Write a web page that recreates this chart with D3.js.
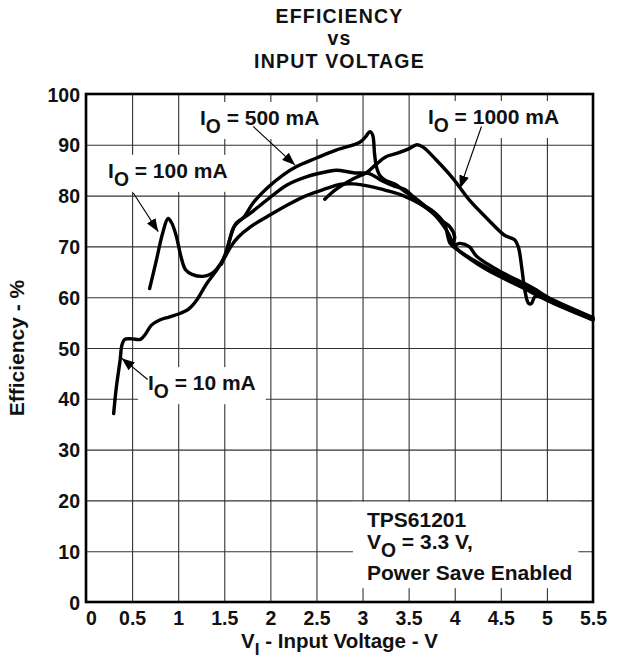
<!DOCTYPE html>
<html><head><meta charset="utf-8">
<script src="https://cdn.jsdelivr.net/npm/d3@7"></script>
<style>
html,body{margin:0;padding:0;background:#fff;}
text{font-family:"Liberation Sans",Arial,Helvetica,sans-serif;font-weight:bold;fill:#111;}
</style></head>
<body>
<svg id="chart" width="617" height="661"></svg>
<script>
// ---- data ----
const xTicks = [0, 0.5, 1, 1.5, 2, 2.5, 3, 3.5, 4, 4.5, 5, 5.5];
const xTickLabels = ["0", "0.5", "1", "1.5", "2", "2.5", "3", "3.5", "4", "4.5", "5", "5.5"];
const yTicks = [0, 10, 20, 30, 40, 50, 60, 70, 80, 90, 100];
const titleLines = ["EFFICIENCY", "vs", "INPUT VOLTAGE"];

// [input voltage V, efficiency %]
const io10mA = [[0.30,37.1],[0.33,42.4],[0.37,47.6],[0.39,50.6],[0.42,51.7],[0.50,51.8],[0.59,51.7],[0.64,52.6],[0.71,54.5],[0.80,55.5],[0.90,56.1],[1.02,56.8],[1.11,57.6],[1.20,59.4],[1.31,62.7],[1.42,65.4],[1.51,68.0],[1.58,70.2],[1.65,71.8],[1.78,73.8],[1.96,75.8],[2.18,78.1],[2.39,80.0],[2.61,81.4],[2.75,82.2],[2.90,82.3],[3.08,81.8],[3.26,81.0],[3.44,80.0],[3.62,78.4],[3.77,76.4],[3.91,73.2],[4.02,69.6],[4.16,67.6],[4.35,65.4],[4.71,62.1],[5.07,58.8],[5.5,55.5]];
const io100mA = [[0.69,61.7],[0.76,67.0],[0.83,72.5],[0.89,75.5],[0.93,74.6],[0.98,72.0],[1.03,68.0],[1.08,65.4],[1.15,64.5],[1.27,64.1],[1.35,64.5],[1.42,65.6],[1.51,68.2],[1.56,71.4],[1.60,73.7],[1.67,75.1],[1.78,76.5],[1.96,79.1],[2.18,82.1],[2.39,83.7],[2.61,84.7],[2.72,85.0],[2.90,84.5],[3.08,84.3],[3.20,83.0],[3.35,81.8],[3.46,81.2],[3.55,79.8],[3.70,77.6],[3.85,75.2],[3.95,73.8],[4.00,71.8],[3.98,70.2],[4.06,70.6],[4.16,69.9],[4.24,68.0],[4.53,64.7],[4.82,62.1],[5.07,59.4],[5.5,55.8]];
const io500mA = [[1.47,66.5],[1.53,69.5],[1.58,72.6],[1.63,74.6],[1.71,75.7],[1.81,78.5],[1.96,81.4],[2.14,84.1],[2.28,85.7],[2.50,87.4],[2.72,89.0],[2.97,90.5],[3.03,91.5],[3.08,92.6],[3.11,91.9],[3.13,88.3],[3.15,85.7],[3.19,83.9],[3.25,83.0],[3.36,82.2],[3.46,80.8],[3.56,79.6],[3.66,78.2],[3.80,76.4],[3.89,74.4],[3.95,70.6],[4.04,69.2],[4.30,66.3],[4.70,62.6],[5.00,60.0],[5.5,56.0]];
const io1000mA = [[2.59,79.3],[2.72,81.3],[2.90,83.3],[3.05,84.6],[3.15,86.2],[3.25,87.6],[3.37,88.3],[3.50,89.2],[3.59,90.0],[3.66,89.5],[3.80,87.0],[3.98,83.4],[4.16,79.1],[4.35,75.5],[4.54,72.2],[4.65,71.3],[4.69,69.9],[4.73,65.4],[4.76,61.4],[4.80,58.8],[4.83,58.7],[4.87,60.1],[4.95,60.0],[5.10,58.6],[5.30,57.1],[5.5,55.6]];

// annotation labels: [text before sub, subscript, text after], anchor in data units, arrow from/to in data units
const seriesLabels = [
  {pre:"I", sub:"O", post:" = 10 mA",   at:[0.672,41.7], arrow:[[0.669,43.8],[0.387,48.0]]},
  {pre:"I", sub:"O", post:" = 100 mA",  at:[0.239,83.5], arrow:[[0.513,80.5],[0.784,72.9]]},
  {pre:"I", sub:"O", post:" = 500 mA",  at:[1.236,93.9], arrow:[[1.815,93.6],[2.267,86.0]]},
  {pre:"I", sub:"O", post:" = 1000 mA", at:[3.709,94.1], arrow:[[4.290,93.6],[4.056,81.4]]}
];
const noteLines = [
  {pre:"TPS61201", sub:"", post:""},
  {pre:"V", sub:"O", post:" = 3.3 V,"},
  {pre:"Power Save Enabled", sub:"", post:""}
];
const noteAt = [[3.048,14.8],[3.048,10.4],[3.048,4.3]];

// ---- layout ----
const svg = d3.select("#chart");
const L = 86, R = 593, T = 94, B = 602;
const x = d3.scaleLinear().domain([0, 5.5]).range([L, R]);
const y = d3.scaleLinear().domain([0, 100]).range([B, T]);

// title
svg.append("g").selectAll("text").data(titleLines).join("text")
  .attr("x", (L + R) / 2)
  .attr("y", (d, i) => [23, 45, 68][i])
  .attr("text-anchor", "middle")
  .style("font-size", "19.5px")
  .style("letter-spacing", "1.2px")
  .text(d => d);

// gridlines via axes
const gx = svg.append("g").attr("transform", `translate(0,${B})`)
  .call(d3.axisBottom(x).tickValues(xTicks).tickSize(-(B - T)).tickFormat((d, i) => xTickLabels[i]));
gx.select(".domain").remove();
gx.selectAll(".tick line").attr("stroke", "#333").attr("stroke-width", 1.1);
gx.selectAll(".tick text").attr("y", 23).attr("dy", 0)
  .attr("dx", (d, i) => i === 0 ? 5 : 0)
  .style("font-size", "19.5px").style("font-family", "'Liberation Sans',Arial,sans-serif").attr("fill", "#111");

const gy = svg.append("g").attr("transform", `translate(${L},0)`)
  .call(d3.axisLeft(y).tickValues(yTicks).tickSize(-(R - L)).tickFormat(d3.format("d")));
gy.select(".domain").remove();
gy.selectAll(".tick line").attr("stroke", "#333").attr("stroke-width", 1.1);
gy.selectAll(".tick text").attr("x", -6).attr("dy", "0.36em")
  .style("font-size", "19.5px").style("font-family", "'Liberation Sans',Arial,sans-serif").attr("fill", "#111");

// helper to write text with subscript
function richText(g, d, fs) {
  const t = g.append("text").style("font-size", fs + "px");
  t.append("tspan").text(d.pre);
  if (d.sub) {
    t.append("tspan").attr("dy", 8).style("font-size", (fs * 0.92) + "px").text(d.sub);
    t.append("tspan").attr("dy", -8).text(d.post);
  }
  return t;
}

const boxLayer = svg.append("g");
const curveLayer = svg.append("g");
const textLayer = svg.append("g");

// series labels + boxes
seriesLabels.forEach(d => {
  const t = richText(textLayer, d, 21).attr("x", x(d.at[0])).attr("y", y(d.at[1]));
  const bb = t.node().getBBox();
  boxLayer.append("rect").attr("x", bb.x - 10).attr("y", bb.y - 4)
    .attr("width", bb.width + 20).attr("height", bb.height + 6).attr("fill", "#fff");
});

// note block
const noteG = textLayer.append("g");
noteLines.forEach((d, i) => {
  richText(noteG, d, 21).attr("x", x(noteAt[i][0])).attr("y", y(noteAt[i][1]));
});
const nb = noteG.node().getBBox();
boxLayer.append("rect").attr("x", nb.x - 14).attr("y", nb.y - 6)
  .attr("width", nb.width + 20).attr("height", nb.height + 10).attr("fill", "#fff");

// curves
const line = d3.line().x(d => x(d[0])).y(d => y(d[1])).curve(d3.curveCatmullRom.alpha(0.5));
[io10mA, io100mA, io500mA, io1000mA].forEach(s => {
  curveLayer.append("path").datum(s).attr("d", line)
    .attr("fill", "none").attr("stroke", "#000").attr("stroke-width", 3.4)
    .attr("stroke-linejoin", "round").attr("stroke-linecap", "round");
});

// arrows
const defs = svg.append("defs");
defs.append("marker").attr("id", "ah").attr("viewBox", "0 0 13 10")
  .attr("refX", 13).attr("refY", 5).attr("markerWidth", 13).attr("markerHeight", 10)
  .attr("markerUnits", "userSpaceOnUse").attr("orient", "auto")
  .append("path").attr("d", "M0,0 L13,5 L0,10 Z").attr("fill", "#000");
seriesLabels.forEach(d => {
  textLayer.append("line")
    .attr("x1", x(d.arrow[0][0])).attr("y1", y(d.arrow[0][1]))
    .attr("x2", x(d.arrow[1][0])).attr("y2", y(d.arrow[1][1]))
    .attr("stroke", "#000").attr("stroke-width", 1.1).attr("marker-end", "url(#ah)");
});

// frame
svg.append("rect").attr("x", L).attr("y", T).attr("width", R - L).attr("height", B - T)
  .attr("fill", "none").attr("stroke", "#000").attr("stroke-width", 2.6);

// axis titles
const xl = svg.append("text").attr("x", (L + R) / 2).attr("y", 648).attr("text-anchor", "middle").style("font-size", "20.5px");
xl.append("tspan").text("V");
xl.append("tspan").attr("dy", 7).style("font-size", "17px").text("I");
xl.append("tspan").attr("dy", -7).text(" - Input Voltage - V");

svg.append("text").attr("transform", `translate(24,${(T + B) / 2}) rotate(-90)`)
  .attr("text-anchor", "middle").style("font-size", "21px").text("Efficiency - %");
</script>
</body></html>
